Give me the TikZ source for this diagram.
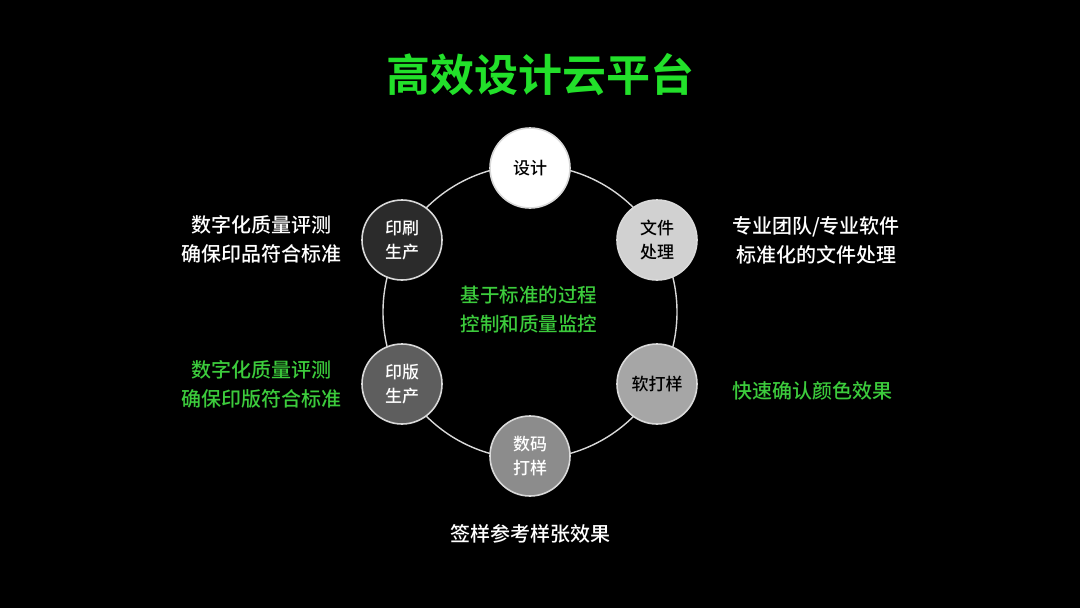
\documentclass[tikz,border=0pt]{standalone}
\usepackage{fontspec}
\setmainfont{Noto Sans CJK SC Medium}
\newfontfamily\cjkbold{Noto Sans CJK SC Bold}
\definecolor{ttl}{HTML}{22E02A}
\definecolor{grn}{HTML}{3CCB3C}
\begin{document}
\begin{tikzpicture}[x=1pt,y=-1pt,
  stagenode/.style={circle,minimum size=80pt,draw=white!85!black,line width=1.6pt,font=\fontsize{17}{24}\selectfont,align=center,inner sep=0pt},
  side/.style={font=\fontsize{20}{29}\selectfont,align=center,text=white}]
\fill[black] (0,0) rectangle (1080,608);
\useasboundingbox (0,0) rectangle (1080,608);
\node[font=\cjkbold\fontsize{44}{48}\selectfont,text=ttl] (title) at (540,75) {高效设计云平台};
\draw[white!85!black,line width=1.4pt] (530,312) circle (147);
\node[stagenode,fill=white,text=black] (s1) at (530,168) {设计};
\node[stagenode,fill=white!82!black,text=black] (s2) at (657,240) {文件\\处理};
\node[stagenode,fill=white!65!black,text=black] (s3) at (657,384) {软打样};
\node[stagenode,fill=white!55!black,text=white] (s4) at (530,456) {数码\\打样};
\node[stagenode,fill=white!37!black,text=white] (s5) at (402,384) {印版\\生产};
\node[stagenode,fill=white!17!black,text=white] (s6) at (402,240) {印刷\\生产};
\node[side,font=\fontsize{19.5}{29}\selectfont,text=grn] (c) at (529,310) {基于标准的过程\\控制和质量监控};
\node[side] (t6) at (261,239) {数字化质量评测\\确保印品符合标准};
\node[side,text=grn] (t5) at (261,384) {数字化质量评测\\确保印版符合标准};
\node[side] (t2) at (816,240) {专业团队/专业软件\\标准化的文件处理};
\node[side,text=grn] (t3) at (812,391) {快速确认颜色效果};
\node[side] (t4) at (530,534) {签样参考样张效果};
\end{tikzpicture}
\end{document}
